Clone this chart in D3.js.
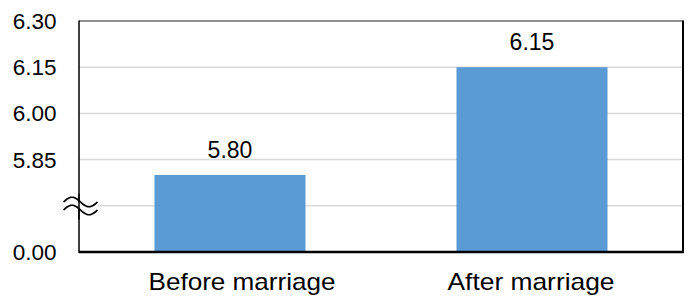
<!DOCTYPE html>
<html><head><meta charset="utf-8">
<script src="https://cdn.jsdelivr.net/npm/d3@7"></script>
<style>body{margin:0;background:#fff}svg{display:block}text{font-family:Arial,"Liberation Sans",sans-serif;fill:#000}</style>
</head><body><svg id="c" width="691" height="304"></svg>
<script>
const categories = ["Before marriage", "After marriage"];
const values = [5.80, 6.15];
const valueLabels = ["5.80", "6.15"];
const tickValues = [6.30, 6.15, 6.00, 5.85, 5.70, 5.55];
const tickLabels = ["6.30", "6.15", "6.00", "5.85", "", "0.00"];
const breakValue = 5.70;

const svg = d3.select("#c");
const L = 79, R = 683, T = 21, B = 252;
const x = d3.scaleBand().domain(categories).range([L, R]).paddingInner(0.5).paddingOuter(0.25);
const y = d3.scaleLinear().domain([5.55, 6.30]).range([B, T]);

// gridlines
svg.append("g").selectAll("line").data(tickValues.filter(v => v < 6.30 && v > 5.55)).join("line")
  .attr("x1", L).attr("x2", R).attr("y1", d => y(d)).attr("y2", d => y(d))
  .attr("stroke", "#d9d9d9").attr("stroke-width", 1.5);

// bars
svg.append("g").selectAll("rect").data(values).join("rect")
  .attr("x", (d, i) => x(categories[i])).attr("width", x.bandwidth())
  .attr("y", d => y(d)).attr("height", d => B - y(d))
  .attr("fill", "#5B9BD5");

// frame
svg.append("line").attr("x1", L).attr("x2", R).attr("y1", T).attr("y2", T).attr("stroke", "#222").attr("stroke-width", 1.2);
svg.append("line").attr("x1", R).attr("x2", R).attr("y1", T - 0.6).attr("y2", B + 1).attr("stroke", "#000").attr("stroke-width", 2);
svg.append("line").attr("x1", L).attr("x2", R + 1).attr("y1", B).attr("y2", B).attr("stroke", "#000").attr("stroke-width", 2.5);
svg.append("line").attr("x1", L).attr("x2", L).attr("y1", T - 0.6).attr("y2", B + 1).attr("stroke", "#000").attr("stroke-width", 1.5);

// y tick labels
svg.append("g").selectAll("text").data(tickValues).join("text")
  .attr("x", 56.5).attr("y", d => y(d) + 8)
  .attr("text-anchor", "end").attr("font-size", 22.5)
  .text((d, i) => tickLabels[i]);

// break symbol
const yb = y(breakValue);
const wave = (off) => d3.range(0, 34.01, 1).map(t => [63.5 + t, yb + off - 4.8 * Math.sin((t / 34) * 2 * Math.PI)]);
const up = wave(-3.8), lo = wave(4.2);
svg.append("path").attr("d", d3.line()(up.concat(lo.slice().reverse())) + "Z").attr("fill", "#fff");
svg.append("line").attr("x1", L).attr("x2", L).attr("y1", yb - 12).attr("y2", yb + 14).attr("stroke", "#000").attr("stroke-width", 1.5);
[up, lo].forEach(p => svg.append("path").attr("d", d3.line().curve(d3.curveBasis)(p)).attr("fill", "none").attr("stroke", "#000").attr("stroke-width", 1.7));

// value labels
svg.append("g").selectAll("text").data(values).join("text")
  .attr("x", (d, i) => x(categories[i]) + x.bandwidth() / 2)
  .attr("y", d => y(d) - 17)
  .attr("text-anchor", "middle").attr("font-size", 23)
  .text((d, i) => valueLabels[i]);

// category labels
const catDx = [12, -1];
const catLen = [187, 167];
svg.append("g").selectAll("text").data(categories).join("text")
  .attr("x", (d, i) => x(d) + x.bandwidth() / 2 + catDx[i])
  .attr("y", 290)
  .attr("text-anchor", "middle").attr("font-size", 24)
  .attr("textLength", (d, i) => catLen[i]).attr("lengthAdjust", "spacingAndGlyphs")
  .text(d => d);
</script></body></html>
